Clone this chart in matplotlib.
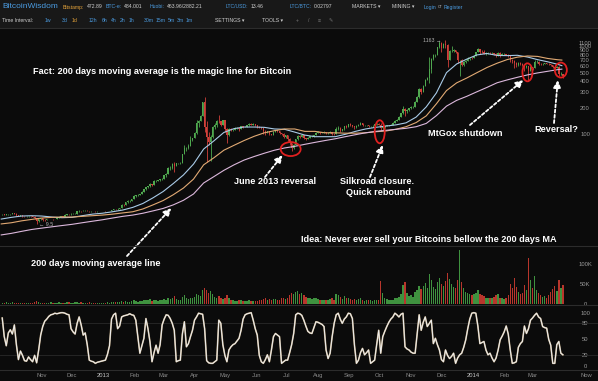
import numpy as np
import pandas as pd
import matplotlib
matplotlib.use("Agg")
import matplotlib.pyplot as plt
import matplotlib.dates as mdates
from matplotlib.patches import Ellipse, Rectangle
from matplotlib.lines import Line2D
from matplotlib.transforms import ScaledTranslation
from matplotlib.ticker import FixedLocator, NullLocator, FixedFormatter

plt.rcParams['font.family'] = ['Liberation Sans', 'DejaVu Sans']

# ---------------- data (2-day candles, Bitstamp BTC/USD) ----------------
candle_start = '2012-09-23'
close = [12.3, 12.2, 12.3, 12.4, 12.4, 12.8, 12.6, 12.0, 11.9, 12.0,
         11.8, 11.7, 11.8, 11.8, 11.7, 11.6, 11.2, 10.4, 10.8, 11.1,
         10.7, 10.6, 10.9, 10.9, 10.9, 10.8, 10.9, 11.2, 11.6, 11.7,
         11.6, 12.2, 12.4, 12.3, 12.6, 12.6, 12.6, 13.3, 13.5, 13.3,
         13.5, 13.6, 13.4, 13.3, 13.5, 13.4, 13.3, 13.4, 13.4, 13.4,
         13.5, 13.4, 13.4, 13.5, 13.7, 14.2, 14.1, 14.3, 14.5, 15.8,
         15.7, 16.9, 17.4, 17.4, 18.4, 19.9, 20.5, 20.5, 21.0, 22.3,
         23.7, 25.0, 25.6, 27.0, 26.8, 29.7, 29.8, 29.9, 30.8, 31.1,
         34.3, 35.0, 41.5, 41.5, 46.0, 44.2, 46.9, 47.0, 47.4, 59.5,
         70.0, 70.5, 73.7, 86.2, 90.5, 104, 135, 142, 162, 230,
         120, 93, 82, 93, 120, 126, 142, 140, 128, 144,
         116, 97, 115, 111, 112, 117, 117, 114, 123, 122,
         122, 126, 131, 129, 131, 129, 122, 121, 118, 109,
         106, 108, 100, 99, 107, 111, 108, 103, 102, 94,
         97, 89, 79, 70, 76, 88, 95, 94, 98, 90,
         89, 91, 95, 95, 97, 104, 105, 104, 105, 106,
         104, 104, 107, 102, 101, 114, 119, 109, 114, 123,
         121, 130, 127, 124, 120, 124, 129, 133, 126, 126,
         126, 123, 123, 124, 130, 132, 129, 117, 121, 125,
         127, 128, 128, 136, 143, 146, 159, 173, 196, 185,
         188, 198, 205, 205, 235, 262, 330, 300, 355, 418,
         440, 545, 721, 800, 800, 970, 1100, 950, 1050, 1040,
         700, 880, 880, 900, 865, 690, 690, 610, 660, 675,
         720, 735, 730, 785, 850, 925, 870, 850, 820, 835,
         840, 830, 830, 810, 790, 840, 795, 810, 810, 800,
         780, 700, 680, 650, 610, 650, 630, 620, 580, 600,
         530, 580, 565, 665, 670, 630, 625, 630, 640, 635,
         625, 610, 580, 565, 585, 480, 490, 455]
high = [12.5, 12.4, 12.4, 12.5, 12.6, 12.9, 12.9, 12.7, 12.1, 12.1,
        12.1, 11.9, 11.9, 11.9, 11.9, 11.8, 11.7, 11.3, 11.0, 11.2,
        11.2, 10.9, 11.0, 11.0, 11.0, 11.0, 11.0, 11.3, 11.8, 11.9,
        11.8, 12.4, 12.5, 12.5, 12.8, 12.8, 12.8, 13.4, 13.7, 13.6,
        13.7, 13.8, 13.7, 13.5, 13.6, 13.6, 13.5, 13.5, 13.5, 13.6,
        13.6, 13.6, 13.5, 13.6, 13.9, 14.3, 14.3, 14.5, 14.7, 16.0,
        16.2, 17.2, 17.8, 17.8, 18.6, 20.5, 20.7, 21.0, 21.2, 22.6,
        24.0, 25.3, 26.0, 28.0, 27.5, 30.0, 30.5, 30.3, 31.0, 31.5,
        34.9, 36.0, 42.0, 44.0, 47.0, 48.5, 47.5, 47.5, 48.0, 60.0,
        76.0, 72.0, 77.0, 96.0, 92.0, 105, 147, 145, 164, 235,
        266, 140, 105, 97, 125, 135, 145, 166, 143, 147,
        146, 117, 118, 118, 115, 120, 120, 119, 124, 124,
        124, 127, 133, 134, 133, 132, 129, 123, 122, 118,
        111, 110, 108, 102, 109, 113, 112, 108, 104, 103,
        98, 97, 90, 80, 78, 89, 97, 98, 100, 99,
        92, 93, 96, 97, 98, 105, 108, 107, 106, 108,
        107, 106, 109, 107, 104, 120, 123, 120, 116, 125,
        126, 132, 133, 129, 125, 126, 131, 137, 134, 128,
        128, 127, 125, 126, 132, 134, 134, 133, 124, 126,
        128, 129, 130, 138, 145, 150, 162, 176, 210, 200,
        195, 200, 209, 210, 240, 275, 340, 340, 360, 425,
        450, 755, 730, 820, 820, 980, 1150, 1130, 1080, 1163,
        1060, 900, 1010, 920, 910, 870, 700, 720, 680, 690,
        760, 740, 760, 795, 870, 955, 935, 900, 900, 860,
        860, 850, 850, 840, 830, 850, 870, 830, 830, 820,
        810, 790, 710, 700, 670, 665, 655, 640, 620, 620,
        600, 600, 580, 700, 690, 675, 640, 640, 650, 645,
        640, 630, 615, 590, 590, 590, 510, 490]
low = [12.0, 12.0, 12.1, 12.2, 12.2, 12.3, 12.4, 11.9, 11.7, 11.8,
       11.6, 11.6, 11.6, 11.6, 11.6, 11.4, 11.0, 9.5, 10.2, 10.7,
       10.5, 10.5, 10.6, 10.8, 10.8, 10.7, 10.8, 10.9, 11.2, 11.5,
       11.5, 11.6, 12.1, 12.2, 12.2, 12.4, 12.4, 12.6, 13.2, 13.2,
       13.3, 13.4, 13.3, 13.1, 13.2, 13.3, 13.2, 13.2, 13.3, 13.3,
       13.3, 13.2, 13.3, 13.4, 13.5, 13.7, 13.9, 14.0, 14.2, 14.4,
       15.3, 15.6, 16.5, 17.0, 17.3, 18.3, 19.5, 19.9, 20.3, 20.8,
       22.1, 23.5, 24.8, 25.5, 26.2, 26.8, 29.0, 29.3, 29.7, 30.5,
       31.0, 33.0, 35.0, 39.5, 40.5, 37.0, 43.5, 45.5, 46.5, 47.0,
       59.0, 64.0, 69.0, 73.5, 84.0, 90.0, 100, 120, 140, 162,
       105, 48, 75, 50, 90, 116, 120, 135, 125, 128,
       105, 79, 96, 108, 108, 111, 114, 110, 114, 119,
       120, 121, 125, 128, 126, 124, 119, 118, 116, 102,
       98, 104, 98, 97, 98, 106, 105, 101, 98, 90,
       92, 85, 76, 65, 68, 75, 87, 92, 93, 88,
       87, 88, 90, 93, 94, 97, 103, 102, 103, 104,
       102, 102, 104, 99, 99, 101, 113, 106, 108, 113,
       119, 120, 125, 122, 116, 119, 123, 128, 124, 124,
       124, 121, 121, 122, 123, 129, 127, 110, 113, 119,
       124, 125, 126, 127, 135, 140, 145, 158, 172, 160,
       176, 186, 196, 198, 204, 230, 260, 285, 300, 350,
       410, 378, 500, 700, 750, 790, 960, 870, 950, 960,
       576, 700, 860, 860, 840, 650, 455, 590, 590, 640,
       680, 700, 720, 730, 780, 850, 820, 830, 810, 800,
       820, 810, 815, 800, 760, 780, 760, 790, 790, 790,
       760, 660, 650, 560, 580, 600, 610, 600, 520, 560,
       410, 520, 540, 560, 650, 620, 610, 615, 625, 625,
       610, 600, 565, 555, 560, 460, 470, 440]
volume_k = [3, 2, 4, 3, 2, 5, 3, 2, 3, 2, 3, 2, 2, 3, 2, 3, 4, 8, 5, 3,
            3, 2, 3, 2, 4, 3, 2, 3, 4, 3, 2, 3, 4, 5, 3,
            3, 4, 5, 3, 4, 3, 3, 2, 4, 3, 3, 2, 3, 2, 3, 3,
            3, 4, 3, 4, 6, 4, 5, 5, 8, 6, 7, 6, 5, 7, 9,
            8, 6, 7, 8, 9, 10, 9, 12, 8, 11, 9, 8, 9, 10,
            13, 11, 16, 12, 14, 20, 12, 10, 9, 18, 22, 14, 12, 16, 14, 18,
            25, 22, 20, 34, 40, 35, 28, 32, 24, 18, 15, 20, 16, 12, 14,
            22, 14, 10, 9, 8, 8, 9, 10, 8, 7, 8, 9, 7, 8, 8,
            8, 9, 10, 12, 14, 10, 12, 11, 13, 12, 10, 11, 14, 16, 12,
            15, 22, 28, 24, 30, 32, 26, 28, 22, 18, 15, 14, 13, 14, 16, 12,
            10, 9, 11, 10, 9, 12, 14, 11, 26, 22, 18, 13, 20, 14, 15,
            13, 11, 12, 10, 12, 14, 10, 8, 9, 11, 9, 8, 10, 11, 9,
            58, 28, 14, 12, 10, 9, 10, 16, 14, 18, 24, 48, 56, 28, 20, 22,
            18, 30, 34, 44, 38, 46, 52, 40, 76, 60, 42, 38, 56, 64, 50,
            44, 58, 78, 62, 50, 42, 40, 60, 135, 55, 40, 30, 28, 24, 22,
            24, 28, 34, 26, 22, 20, 16, 15, 14, 16, 18, 22, 24, 16, 14, 12,
            14, 22, 50, 40, 66, 42, 30, 26, 28, 48, 35, 115, 60, 40,
            70, 35, 28, 22, 18, 20, 16, 22, 30, 38, 46, 32, 60, 40, 48]
stoch = [90, 55, 38, 62, 68, 60, 77, 40, 12, 28,
         20, 10, 9, 17, 12, 8, 20, 6, 30, 58,
         74, 84, 88, 93, 96, 97, 99, 98, 99, 100,
         100, 99, 97, 96, 70, 64, 60, 80, 92, 77,
         58, 62, 40, 11, 9, 8, 5, 7, 8, 9,
         10, 11, 22, 38, 88, 96, 99, 70, 75, 92,
         94, 95, 96, 98, 96, 95, 86, 55, 24, 38,
         52, 89, 70, 45, 8, 25, 39, 24, 40, 77,
         88, 96, 95, 89, 80, 67, 8, 10, 11, 60,
         83, 36, 42, 55, 67, 86, 92, 99, 98, 97,
         70, 10, 6, 5, 5, 8, 11, 86, 80, 40,
         20, 8, 30, 36, 40, 42, 47, 52, 67, 88,
         96, 98, 99, 100, 86, 70, 58, 20, 8, 5,
         12, 21, 8, 30, 55, 61, 58, 55, 5, 8,
         11, 11, 25, 40, 61, 96, 99, 98, 95, 86,
         75, 65, 62, 61, 72, 83, 82, 80, 78, 74,
         30, 14, 24, 55, 80, 96, 99, 88, 80, 88,
         92, 99, 98, 89, 40, 5, 11, 25, 33, 21,
         25, 30, 5, 8, 11, 40, 67, 24, 55, 65,
         74, 82, 88, 92, 99, 96, 92, 97, 99, 36,
         32, 30, 26, 24, 24, 60, 96, 67, 82, 92,
         74, 80, 86, 42, 52, 40, 30, 12, 8, 30,
         20, 14, 18, 24, 5, 15, 21, 24, 35, 49,
         70, 88, 99, 100, 99, 75, 42, 44, 46, 30,
         21, 24, 15, 8, 15, 30, 49, 56, 64, 75,
         60, 30, 5, 6, 8, 35, 42, 46, 75, 61,
         70, 86, 90, 95, 99, 92, 89, 74, 72, 71,
         50, 39, 5, 5, 40, 46, 24, 21]

# moving averages read every 10 days
ma_start = '2012-09-22'
ma_last = '2014-03-30'
ma50 = [10.9, 11.4, 11.8, 11.9, 11.8, 11.5, 11.3, 11.4, 11.9, 12.4,
        12.7, 13.2, 13.8, 14.8, 16.4, 19.0, 22.4, 27.6, 34.5, 45.9,
        68, 84, 105, 116, 121, 121, 120, 115, 114, 106,
        98, 94, 94, 94, 100, 108, 115, 120, 124, 128,
        135, 157, 205, 295, 502, 629, 714, 797, 828, 787,
        783, 790, 755, 705, 666, 623, 602]
ma100 = [9.6, 9.9, 10.4, 10.8, 11.2, 11.4, 11.5, 11.5, 11.7, 11.9,
         12.1, 12.4, 12.8, 13.2, 14.2, 15.8, 17.7, 20.6, 24.5, 31,
         45, 54, 66, 75, 85, 95, 104, 110, 115, 115,
         108, 108, 104, 104, 103, 103, 104, 107, 109, 114,
         122, 136, 162, 222, 314, 384, 436, 501, 574, 642,
         706, 752, 776, 767, 727, 703, 697]
ma200 = [7.2, 7.5, 7.9, 8.3, 8.6, 8.9, 9.2, 9.5, 9.9, 10.3,
         10.7, 11.2, 11.7, 12.1, 12.7, 13.5, 14.4, 15.8, 17.8, 21,
         28, 33, 39, 45, 51, 56, 61, 66, 70, 73,
         77, 81, 85, 89, 94, 99, 104, 108, 111, 114,
         117, 122, 133, 163, 209, 243, 270, 304, 341, 385,
         415, 444, 473, 498, 520, 543, 550]

month_ticks = ['2012-11-01', '2012-12-01', '2013-01-01', '2013-02-01', '2013-03-01',
               '2013-04-01', '2013-05-01', '2013-06-01', '2013-07-01', '2013-08-01',
               '2013-09-01', '2013-10-01', '2013-11-01', '2013-12-01', '2014-01-01',
               '2014-02-01', '2014-03-01']
month_labels = ['Nov', 'Dec', '2013', 'Feb', 'Mar', 'Apr', 'May', 'Jun', 'Jul', 'Aug',
                'Sep', 'Oct', 'Nov', 'Dec', '2014', 'Feb', 'Mar']
now_tick = '2014-04-23'
price_ticks = [100, 200, 300, 400, 500, 600, 700, 800, 900, 1000, 1100]
vol_ticks = [0, 50, 100]
vol_labels = ['0', '50K', '100K']
osc_ticks = [0, 20, 50, 80, 100]

# ---------------- layout ----------------
W, H = 598, 381
BG = '#0b0b0b'
fig = plt.figure(figsize=(W / 100, H / 100), dpi=100, facecolor=BG)


def fy(y):
    return 1 - y / H


def rect(top, bottom):
    return [0, 1 - bottom / H, 1, (bottom - top) / H]


ax = fig.add_axes(rect(29, 246))
axv = fig.add_axes(rect(246, 305))
axo = fig.add_axes(rect(305, 370))
for a in (ax, axv, axo):
    a.set_facecolor('none')
    for s in a.spines.values():
        s.set_visible(False)

# header
fig.add_artist(Rectangle((0, fy(28)), 1, 28 / H, transform=fig.transFigure,
                         facecolor='#181818', edgecolor='none', zorder=0))
for yy in (28, 246, 305, 370):
    fig.add_artist(Line2D([0, 1], [fy(yy), fy(yy)], transform=fig.transFigure,
                          color='#2c2c2c', lw=0.8))

BLUE = '#4b9be0'
GREY = '#cfcfcf'
ORANGE = '#e3a23a'
HFS = 3.7
fig.text(2 / W, fy(7), 'BitcoinWisdom', color=BLUE, fontsize=6, ha='left', va='center')
row1 = [(63, 'Bitstamp:', ORANGE, '472.89'), (106, 'BTC-e:', BLUE, '484.001'),
        (150, 'Huobi:', BLUE, '463.96/2882.21'), (226, 'LTC/USD:', BLUE, '13.46'),
        (290, 'LTC/BTC:', BLUE, '0.02797')]
for x, lab, c, val in row1:
    t = fig.text(x / W, fy(7), lab, color=c, fontsize=HFS, ha='left', va='center')
    ax.annotate(val, xy=(1, 0.5), xycoords=t, xytext=(1.5, 0), textcoords='offset points',
                ha='left', va='center', color=GREY, fontsize=HFS, annotation_clip=False)
row1b = [(352, 'MARKETS \u25be', GREY), (392, 'MINING \u25be', GREY),
         (424, 'Login', BLUE), (438, 'or', '#999999'), (444, 'Register', BLUE)]
for x, s, c in row1b:
    fig.text(x / W, fy(7), s, color=c, fontsize=HFS, ha='left', va='center')
row2 = [(2, 'Time Interval:', GREY), (45, '1w', BLUE), (62, '3d', BLUE), (72, '1d', ORANGE),
        (89, '12h', BLUE), (102, '6h', BLUE), (111, '4h', BLUE), (120, '2h', BLUE),
        (129, '1h', BLUE), (144, '30m', BLUE), (156, '15m', BLUE), (168, '5m', BLUE),
        (177, '3m', BLUE), (186, '1m', BLUE), (215, 'SETTINGS \u25be', GREY),
        (262, 'TOOLS \u25be', GREY), (296, '+', '#777777'), (308, '/', '#777777'),
        (318, '\u2261', '#777777'), (329, '\u270e', '#777777')]
for x, s, c in row2:
    fig.text(x / W, fy(20.5), s, color=c, fontsize=HFS, ha='left', va='center')

# ---------------- candles ----------------
dates = pd.date_range(candle_start, periods=len(close), freq='2D')
xd = mdates.date2num(dates)
c = np.array(close, float)
hi = np.array(high, float)
lo = np.array(low, float)
o = np.r_[c[0], c[:-1]]
up = c >= o
GREEN = '#4fa84f'
RED = '#d2403a'
col = np.where(up, GREEN, RED)
ax.vlines(xd, lo, hi, colors=col, lw=0.6, zorder=2)
ax.bar(xd, np.abs(c - o), bottom=np.minimum(o, c), width=1.4, color=col, lw=0, zorder=2)

# moving averages
ma_dates = list(pd.date_range(ma_start, periods=len(ma50) - 1, freq='10D')) + [pd.Timestamp(ma_last)]
mx = mdates.date2num(pd.DatetimeIndex(ma_dates))
ax.plot(mx, ma50, color='#a9cbe8', lw=0.8, zorder=3)
ax.plot(mx, ma100, color='#e2aa74', lw=0.8, zorder=3)
ax.plot(mx, ma200, color='#dcb8dc', lw=0.8, zorder=3)

# extremes labels
imax = int(np.argmax(hi))
imin = int(np.argmin(lo))
ax.annotate('%g \u2192' % hi[imax], xy=(xd[imax], hi[imax]), xytext=(-3, 0),
            textcoords='offset points', ha='right', va='center', color='#b0b0b0', fontsize=3.8)
ax.annotate('\u2190 %g' % lo[imin], xy=(xd[imin], lo[imin]), xytext=(2, 0),
            textcoords='offset points', ha='left', va='center', color='#b0b0b0', fontsize=3.8)

# volume
vcol = np.where(up, '#3f923f', '#b8362c')
axv.bar(xd, volume_k, width=1.4, color=vcol, lw=0)

# oscillator
axo.axhline(80, color='#2a2a2a', lw=0.6)
axo.axhline(20, color='#2a2a2a', lw=0.6)
axo.plot(xd, stoch, color='#b8a07a', lw=1.2)
axo.plot(xd, stoch, color='#ececec', lw=0.75)

# ---------------- axes / ticks ----------------
x0 = mdates.date2num(pd.Timestamp('2012-11-01')) - 41.7 / 1.012
x1 = x0 + W / 1.012
for a in (ax, axv, axo):
    a.set_xlim(x0, x1)

ax.set_yscale('log')
ax.set_ylim(5.39, 1571)
axv.set_ylim(-2.5, 145)
axo.set_ylim(-7.5, 114.4)

PAD = -(W - 585) * 0.72


def right_labels(a, ticks, labels):
    a.yaxis.set_major_locator(FixedLocator(ticks))
    a.yaxis.set_major_formatter(FixedFormatter(labels))
    a.yaxis.set_minor_locator(NullLocator())
    a.yaxis.tick_right()
    a.tick_params(axis='y', which='both', length=0, pad=PAD, labelsize=4.2,
                  labelcolor='#9a9a9a')
    for t in a.get_yticklabels():
        t.set_horizontalalignment('center')


right_labels(ax, price_ticks, [str(p) for p in price_ticks])
right_labels(axv, vol_ticks, vol_labels)
right_labels(axo, osc_ticks, [str(v) for v in osc_ticks])

for a in (ax, axv):
    a.set_xticks([])
xt = list(mdates.date2num(pd.DatetimeIndex(month_ticks))) + [mdates.date2num(pd.Timestamp(now_tick))]
axo.set_xticks(xt)
axo.set_xticklabels(month_labels + ['Now'])
axo.tick_params(axis='x', length=0, pad=2.2, labelsize=4.2, labelcolor='#8a8a8a')
for t in axo.get_xticklabels():
    if t.get_text() in ('2013', '2014'):
        t.set_color('#c8c8c8')

# ---------------- annotations ----------------
TXT = dict(color='white', fontsize=6.6, fontweight='bold', ha='center', va='center')
notes = [('Fact: 200 days moving average is the magic line for Bitcoin', 162, 72),
         ('June 2013 reversal', 275, 182),
         ('Silkroad closure.', 377, 182),
         ('Quick rebound', 378, 192.5),
         ('MtGox shutdown', 465, 133),
         ('Reversal?', 556, 129),
         ('Idea: Never ever sell your Bitcoins bellow the 200 days MA', 429, 240),
         ('200 days moving average line', 96, 264)]
for s, x, y in notes:
    fig.text(x / W, fy(y), s, **TXT)

arrows = [('2013-03-09', 14.5, (127, 256)),
          ('2013-06-27', 58, (265, 177)),
          ('2013-10-04', 75.5, (370, 177)),
          ('2014-02-20', 414, (470, 125)),
          ('2014-03-26', 414, (554, 123))]
for d, p, (tx, ty) in arrows:
    ax.annotate('', xy=(mdates.date2num(pd.Timestamp(d)), p), xycoords='data',
                xytext=(tx, H - ty), textcoords='figure pixels', annotation_clip=False,
                arrowprops=dict(arrowstyle='-|>,head_length=0.45,head_width=0.22',
                                color='white', lw=1.3, linestyle=(0, (1.6, 1.3)),
                                shrinkA=0, shrinkB=0))

rings = [('2013-07-05', 68, 20, 14),
         ('2013-10-01', 107, 10, 23),
         ('2014-02-24', 506, 10, 18),
         ('2014-03-29', 537, 12, 15)]
for d, p, w, h in rings:
    tr = fig.dpi_scale_trans + ScaledTranslation(mdates.date2num(pd.Timestamp(d)), p, ax.transData)
    e = Ellipse((0, 0), w / 100, h / 100, transform=tr, fill=False, ec='#e02020',
                lw=1.3, clip_on=False, zorder=5)
    ax.add_artist(e)

fig.savefig('out.png', dpi=100, facecolor=BG)
